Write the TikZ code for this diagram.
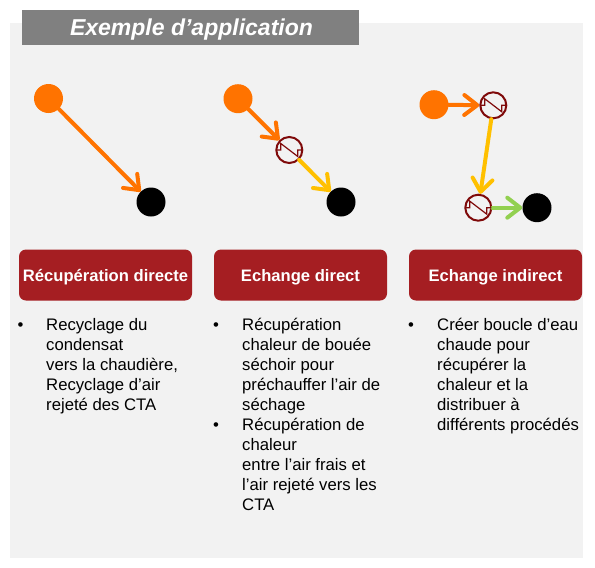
\documentclass[tikz,border=0pt]{standalone}
\usepackage{fontspec}
\setmainfont{Liberation Sans}
\usetikzlibrary{arrows.meta}
\definecolor{panelgray}{HTML}{F2F2F2}
\definecolor{titlegray}{HTML}{808080}
\definecolor{hotorange}{HTML}{FF7300}
\definecolor{warmyellow}{HTML}{FFC000}
\definecolor{coolgreen}{HTML}{92D050}
\definecolor{boxred}{HTML}{A51E22}
\definecolor{exred}{HTML}{7F0A0A}
\tikzset{
  source/.style={circle,fill=hotorange,minimum size=29pt,inner sep=0pt,draw=none},
  sink/.style={circle,fill=black,minimum size=29pt,inner sep=0pt,draw=none},
  exch/.style={circle,draw=exred,line width=2pt,fill=panelgray,minimum size=26pt,inner sep=0pt},
  flow/.style={line width=4pt,line cap=round,-{Straight Barb[length=13pt,width=20pt,round]}},
  redbox/.style={fill=boxred,rounded corners=7pt,minimum width=173pt,minimum height=51pt,inner sep=0pt,
     text=white,text height=13pt,text depth=0pt,font=\fontsize{16.6}{18}\selectfont\bfseries},
  bullettext/.style={anchor=north west,inner sep=0pt,align=left,font=\fontsize{16.7}{20}\selectfont,text=black},
  bulletmark/.style={anchor=north west,inner sep=0pt,font=\fontsize{16.7}{20}\selectfont,text=black},
  zig/.style={draw=exred,line width=1.2pt}
}
\newcommand{\zigzag}[1]{%
  \draw[zig] ([shift={(-13,0)}]#1.center) -- ++(4.5,0) -- ++(0,-6.5) -- ++(17,13) -- ++(0,-6.5) -- ++(4.5,0);
}
\begin{document}
\begin{tikzpicture}[x=1pt,y=-1pt]
\useasboundingbox (0,0) rectangle (595,568);
\fill[panelgray] (10,23) rectangle (583,558);
\node[fill=titlegray,draw=none,minimum width=337pt,minimum height=35pt,inner sep=0pt,text=white,
  text height=16.4pt,text depth=0pt,
  font=\fontsize{23}{24}\selectfont\bfseries\itshape] (title) at (190.5,27.5) {\hspace{2pt}Exemple d’application};

% case 1
\node[source] (a1) at (48.5,98.5) {};
\node[sink] (b1) at (151,202) {};
\draw[flow,hotorange] (a1) -- (b1);

% case 2
\node[source] (a2) at (238,98.7) {};
\node[exch] (x2) at (289.3,150) {};
\node[sink] (b2) at (341,202) {};
\draw[flow,hotorange] (a2) -- (x2);
\draw[flow,warmyellow] (x2) -- (b2);
\zigzag{x2}

% case 3
\node[source] (a3) at (434,104.7) {};
\node[exch] (x3) at (493.3,105.3) {};
\node[exch] (y3) at (478.3,207.7) {};
\node[sink] (b3) at (537,207.7) {};
\draw[flow,hotorange] (a3) -- (x3);
\draw[flow,warmyellow] (x3) -- (y3);
\draw[flow,coolgreen] (y3) -- (b3);
\zigzag{x3}
\zigzag{y3}

% headers
\node[redbox] (h1) at (105.5,275) {Récupération directe};
\node[redbox] (h2) at (300.5,275) {Echange direct};
\node[redbox] (h3) at (495.5,275) {Echange indirect};

% column 1
\node[bulletmark] (m1) at (17.5,322) {•};
\node[bullettext] (t1) at (46,318) {Recyclage du\\condensat\\vers la chaudière,\\Recyclage d’air\\rejeté des CTA};

% column 2
\node[bulletmark] (m2) at (213,322) {•};
\node[bullettext] (t2) at (242,318) {Récupération\\chaleur de bouée\\séchoir pour\\préchauffer l’air de\\séchage};
\node[bulletmark] (m3) at (213,422) {•};
\node[bullettext] (t3) at (242,418) {Récupération de\\chaleur\\entre l’air frais et\\l’air rejeté vers les\\CTA};

% column 3
\node[bulletmark] (m4) at (408,322) {•};
\node[bullettext] (t4) at (437,318) {Créer boucle d’eau\\chaude pour\\récupérer la\\chaleur et la\\distribuer à\\différents procédés};
\end{tikzpicture}
\end{document}
